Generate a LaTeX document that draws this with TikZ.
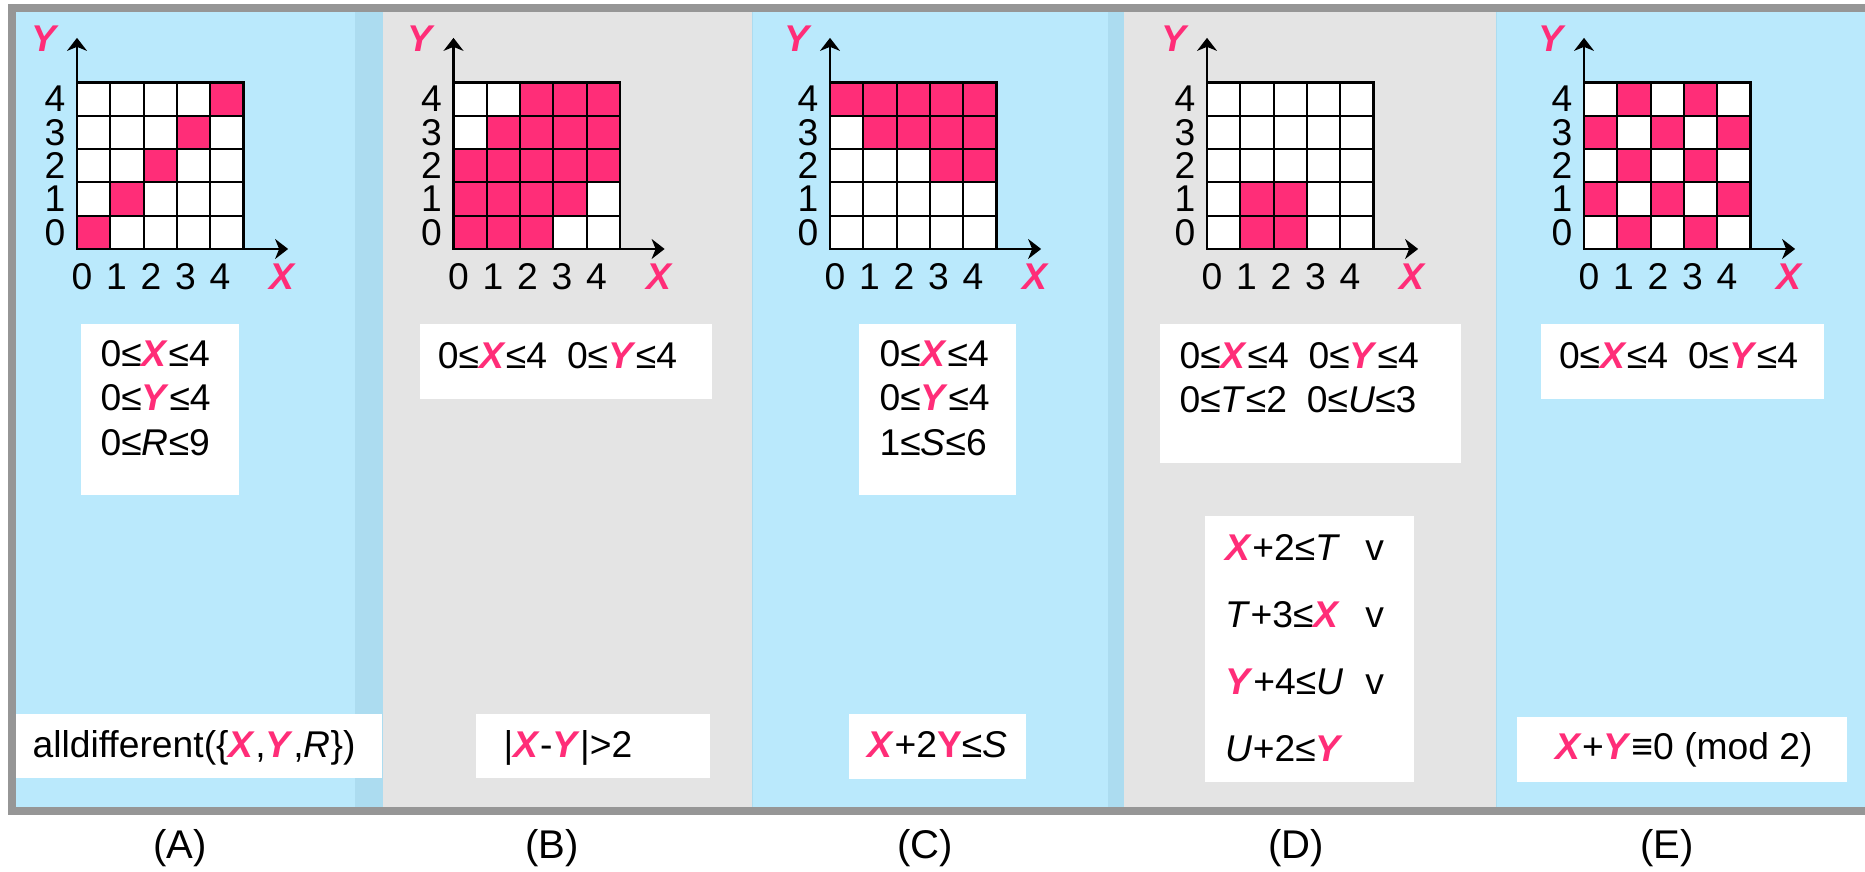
\documentclass[tikz,border=0pt]{standalone}
\usepackage{fontspec}
\setmainfont{Liberation Sans}
\usetikzlibrary{arrows.meta}

\definecolor{cellpink}{RGB}{255,45,120}
\definecolor{paneblue}{RGB}{186,233,252}
\definecolor{panestrip}{RGB}{172,220,240}
\definecolor{panegray}{RGB}{228,228,228}
\definecolor{framegray}{RGB}{150,150,150}

\newcommand{\panelfont}{\fontsize{10.6}{12.6}\selectfont}
\newcommand{\VX}{\textcolor{cellpink}{\textbf{\textit{X}}}}
\newcommand{\VY}{\textcolor{cellpink}{\textbf{\textit{Y}}}}

\begin{document}
\begin{tikzpicture}[
    font=\panelfont,
    cell/.style={draw=black, line width=0.6pt},
    axis/.style={line width=0.6pt, -{Stealth[length=1.3mm, width=2mm, inset=0.4mm]}},
    var/.style={text=cellpink, font=\panelfont\bfseries\itshape, inner sep=0pt},
    tick/.style={inner sep=0pt},
    box/.style={fill=white},
    dom/.style={anchor=north west, inner sep=0pt, align=left},
    cons/.style={anchor=base, inner sep=0pt},
    tag/.style={anchor=base, inner sep=0pt, font=\fontsize{11.4}{13.6}\selectfont}
]
\useasboundingbox (0,0) rectangle (18.65,8.72);

% panel backgrounds
\fill[paneblue] (0.16,0.65) rectangle (3.83,8.60);
\fill[panestrip] (3.55,0.65) rectangle (3.83,8.60);
\fill[panegray] (3.83,0.65) rectangle (7.52,8.60);
\fill[paneblue] (7.52,0.65) rectangle (11.24,8.60);
\fill[panestrip] (11.08,0.65) rectangle (11.24,8.60);
\fill[panegray] (11.24,0.65) rectangle (14.96,8.60);
\fill[paneblue] (14.96,0.65) rectangle (18.70,8.60);
\draw[panestrip, line width=0.4pt] (7.525,0.65) -- (7.525,8.60);
\draw[panestrip, line width=0.4pt] (14.965,0.65) -- (14.965,8.60);

% outer frame
\draw[framegray, line width=0.85mm] (0.12,0.61) rectangle (18.69,8.64);

% domain grids, pink = excluded pair
\foreach \p/\gx/\test in {A/0.77/{\i==\j}, B/4.535/{abs(\i-\j)<=2},
    C/8.30/{\i+2*\j>6}, D/12.07/{and(\i>0,and(\i<3,\j<2))},
    E/15.84/{mod(\i+\j,2)==1}} {
\begin{scope}[shift={(\gx,6.23)}, x=3.33mm, y=3.33mm]
    \foreach \i in {0,...,4}
        \foreach \j in {0,...,4} {
            \pgfmathtruncatemacro\ishit{(\test) ? 1 : 0}
            \ifnum\ishit=1 \def\cellfill{cellpink}\else\def\cellfill{white}\fi
            \draw[cell, fill=\cellfill] (\i,\j) rectangle ++(1,1);
        }
    % axes
    \coordinate (\p-o) at (0,0);
    \coordinate (\p-xend) at (6.34,0);
    \coordinate (\p-yend) at (0,6.34);
    \draw[axis] (\p-o) -- (\p-xend);
    \draw[axis] (\p-o) -- (\p-yend);
    \node[var] (\p-xlab) at (6.16,-0.84) {X};
    \node[var] (\p-ylab) at (-1.0,6.31) {Y};
    \foreach \k in {0,...,4} {
        \node[tick] (\p-c\k) at (0.15+1.036*\k,-0.84) {\k};
        \node[tick] (\p-r\k) at (-0.66,\k+0.5) {\k};
    }
\end{scope}
}

% (A) alldifferent
\fill[box] (0.81,3.77) rectangle (2.39,5.48);
\node[dom] (domA) at (1.00,5.32) {0≤\VX≤4\\0≤\VY≤4\\0≤\textit{R}≤9};
\fill[box] (0.16,0.94) rectangle (3.82,1.58);
\node[cons] (consA) at (1.94,1.14) {alldifferent(\{\VX,\VY,\textit{R}\})};

% (B) distance
\fill[box] (4.20,4.73) rectangle (7.12,5.48);
\node[cons] (domB) at (5.575,5.03) {0≤\VX≤4\hspace{2mm}0≤\VY≤4};
\fill[box] (4.76,0.94) rectangle (7.10,1.58);
\node[cons] (consB) at (5.68,1.14) {|\VX-\VY|>2};

% (C) linear
\fill[box] (8.59,3.77) rectangle (10.16,5.48);
\node[dom] (domC) at (8.79,5.32) {0≤\VX≤4\\0≤\VY≤4\\1≤\textit{S}≤6};
\fill[box] (8.49,0.93) rectangle (10.26,1.58);
\node[cons] (consC) at (9.375,1.14) {\VX+2\textcolor{cellpink}{\textbf{Y}}≤\textit{S}};

% (D) disjunction
\fill[box] (11.60,4.09) rectangle (14.61,5.48);
\node[dom] (domD) at (11.79,5.30) {0≤\VX≤4\hspace{2mm}0≤\VY≤4\\0≤\textit{T}≤2\hspace{2mm}0≤\textit{U}≤3};
\fill[box] (12.05,0.90) rectangle (14.14,3.56);
\node[anchor=base west, inner sep=0pt] (consD) at (12.25,3.11) {%
\begin{tabular}[t]{@{}l@{\hspace{2.2mm}}l@{}}
\VX+2≤\textit{T} & v\\[6.4pt]
\textit{T}+3≤\VX & v\\[6.4pt]
\VY+4≤\textit{U} & v\\[6.4pt]
\textit{U}+2≤\VY &
\end{tabular}};

% (E) parity
\fill[box] (15.41,4.73) rectangle (18.24,5.48);
\node[cons] (domE) at (16.785,5.03) {0≤\VX≤4\hspace{2mm}0≤\VY≤4};
\fill[box] (15.17,0.90) rectangle (18.47,1.55);
\node[cons] (consE) at (16.84,1.12) {\VX+\VY≡0 (mod 2)};

% panel tags
\foreach \p/\x in {A/1.80, B/5.52, C/9.25, D/12.96, E/16.67}
    \node[tag] (tag\p) at (\x,0.13) {(\p)};

\end{tikzpicture}
\end{document}
